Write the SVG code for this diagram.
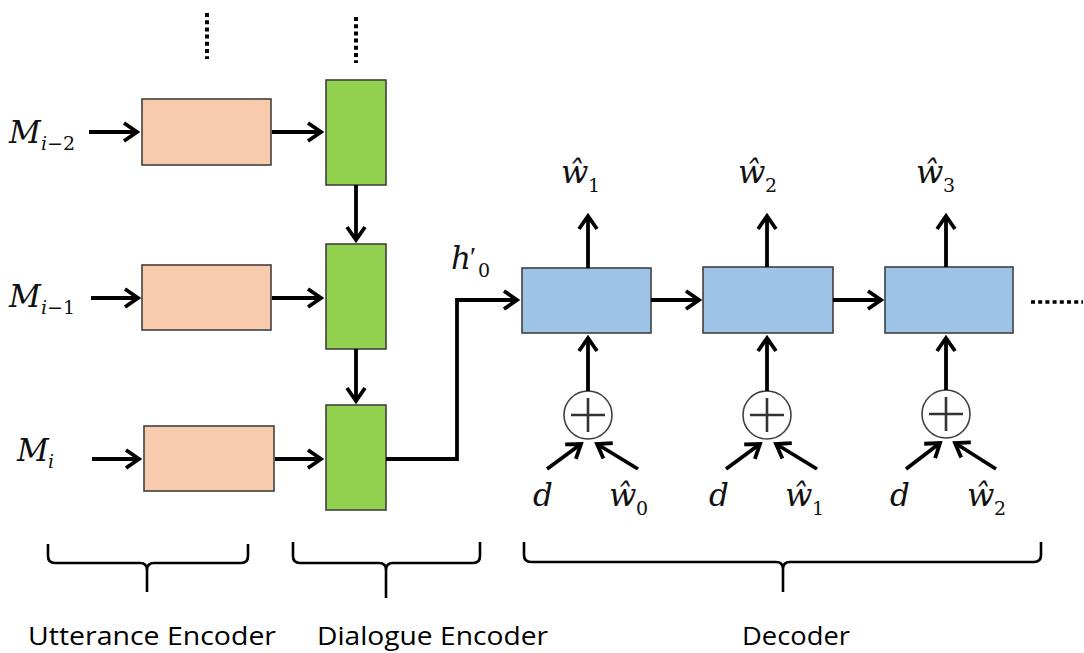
<svg xmlns="http://www.w3.org/2000/svg" width="1084" height="653" viewBox="0 0 1084 653">
  <style>
    .utt { fill: #F8CBAD; stroke: #404040; stroke-width: 1.6; }
    .dlg { fill: #92D050; stroke: #404040; stroke-width: 1.6; }
    .dec { fill: #9DC3E6; stroke: #404040; stroke-width: 1.6; }
    .sum { fill: #ffffff; stroke: #404040; stroke-width: 1.6; }
    .plus { stroke: #333333; stroke-width: 2.6; fill: none; }
    .link { fill: none; stroke: #000000; stroke-width: 3.8; marker-end: url(#arr); }
    .dots { fill: none; stroke: #000000; stroke-width: 4; stroke-dasharray: 4 3.2; }
    .brace { fill: none; stroke: #000000; stroke-width: 2.6; stroke-linejoin: round; }
    .mi { font-family: "DejaVu Serif", "Liberation Serif", serif; font-style: italic; font-size: 31px; fill: #111111; }
    .wh { font-family: "DejaVu Serif", "Liberation Serif", serif; font-style: italic; font-size: 32px; fill: #111111; }
    .sub { font-family: "DejaVu Serif", "Liberation Serif", serif; font-size: 19px; fill: #111111; }
    .subi { font-family: "DejaVu Serif", "Liberation Serif", serif; font-style: italic; font-size: 19px; fill: #111111; }
    .cap { font-family: "Open Sans", "Liberation Sans", sans-serif; font-size: 25px; fill: #000000; }
  </style>
  <defs>
    <marker id="arr" viewBox="-18 -12 22 24" refX="0" refY="0" markerWidth="22" markerHeight="24" markerUnits="userSpaceOnUse" orient="auto">
      <path d="M-13,-9 L0,0 L-13,9" fill="none" stroke="#000000" stroke-width="3.8" stroke-linejoin="miter"/>
    </marker>
  </defs>

  <!-- utterance encoders -->
  <g id="utt-1"><rect class="utt" x="142" y="99" width="129" height="66"/></g>
  <g id="utt-2"><rect class="utt" x="142" y="265" width="129" height="65"/></g>
  <g id="utt-3"><rect class="utt" x="144" y="426" width="130" height="65"/></g>

  <!-- dialogue encoder states -->
  <g id="dlg-1"><rect class="dlg" x="326" y="80" width="60" height="105"/></g>
  <g id="dlg-2"><rect class="dlg" x="326" y="244" width="60" height="105"/></g>
  <g id="dlg-3"><rect class="dlg" x="326" y="405" width="60" height="105"/></g>

  <!-- decoder cells -->
  <g id="dec-1"><rect class="dec" x="522" y="268" width="129" height="65"/></g>
  <g id="dec-2"><rect class="dec" x="703" y="267" width="130" height="66"/></g>
  <g id="dec-3"><rect class="dec" x="885" y="267" width="128" height="66"/></g>

  <!-- sum nodes -->
  <g id="sum-1">
    <circle class="sum" cx="588" cy="415" r="24"/>
    <path class="plus" d="M571,415 H605 M588,398 V432"/>
  </g>
  <g id="sum-2">
    <circle class="sum" cx="767" cy="415" r="24"/>
    <path class="plus" d="M750,415 H784 M767,398 V432"/>
  </g>
  <g id="sum-3">
    <circle class="sum" cx="946" cy="414" r="24"/>
    <path class="plus" d="M929,414 H963 M946,397 V431"/>
  </g>

  <!-- connectors -->
  <g id="connectors">
    <line class="link" x1="89" y1="132" x2="137" y2="132"/>
    <line class="link" x1="91" y1="298" x2="138" y2="298"/>
    <line class="link" x1="92" y1="459" x2="139" y2="459"/>
    <line class="link" x1="272" y1="132" x2="321" y2="132"/>
    <line class="link" x1="272" y1="298" x2="321" y2="298"/>
    <line class="link" x1="275" y1="459" x2="321" y2="459"/>
    <line class="link" x1="356" y1="185" x2="356" y2="240"/>
    <line class="link" x1="356" y1="349" x2="356" y2="401"/>
    <path class="link" d="M386,459 H457 V300 H517"/>
    <line class="link" x1="651" y1="300" x2="699" y2="300"/>
    <line class="link" x1="833" y1="300" x2="881" y2="300"/>
    <line class="link" x1="588" y1="268" x2="588" y2="216"/>
    <line class="link" x1="767" y1="267" x2="767" y2="216"/>
    <line class="link" x1="946" y1="267" x2="946" y2="216"/>
    <line class="link" x1="588" y1="391" x2="588" y2="338"/>
    <line class="link" x1="767" y1="391" x2="767" y2="338"/>
    <line class="link" x1="946" y1="390" x2="946" y2="338"/>
    <line class="link" x1="547" y1="469" x2="581" y2="444"/>
    <line class="link" x1="638" y1="469" x2="597" y2="444"/>
    <line class="link" x1="726" y1="469" x2="760" y2="444"/>
    <line class="link" x1="817" y1="469" x2="776" y2="444"/>
    <line class="link" x1="906" y1="469" x2="940" y2="443"/>
    <line class="link" x1="996" y1="469" x2="955" y2="443"/>
    <line class="dots" x1="207" y1="13" x2="207" y2="59"/>
    <line class="dots" x1="356" y1="17" x2="356" y2="63"/>
    <line class="dots" x1="1031" y1="302" x2="1083" y2="302" style="stroke-width:3.5"/>
  </g>

  <!-- variable labels -->
  <g id="labels">
    <text class="mi" x="9" y="143">M</text>
    <text class="subi" x="41" y="150">i</text><text class="sub" x="47" y="150">−2</text>
    <text class="mi" x="9" y="307">M</text>
    <text class="subi" x="41" y="314">i</text><text class="sub" x="47" y="314">−1</text>
    <text class="mi" x="17" y="461">M</text>
    <text class="subi" x="48" y="468">i</text>

    <text class="mi" x="451" y="269">h</text>
    <text x="470" y="266" style="font-family:'Liberation Serif',serif;font-size:28px;fill:#111111">′</text>
    <text class="sub" x="478" y="277">0</text>

    <text class="wh" x="561" y="183">ŵ</text><text class="sub" x="588" y="192">1</text>
    <text class="wh" x="738" y="183">ŵ</text><text class="sub" x="765" y="192">2</text>
    <text class="wh" x="916" y="183">ŵ</text><text class="sub" x="943" y="192">3</text>

    <text class="mi" x="533" y="506">d</text>
    <text class="wh" x="609" y="506">ŵ</text><text class="sub" x="636" y="515">0</text>
    <text class="mi" x="709" y="506">d</text>
    <text class="wh" x="785" y="506">ŵ</text><text class="sub" x="812" y="515">1</text>
    <text class="mi" x="890" y="506">d</text>
    <text class="wh" x="967" y="506">ŵ</text><text class="sub" x="994" y="515">2</text>
  </g>

  <!-- group braces -->
  <g id="braces">
    <path class="brace" d="M48,544 V556 Q48,563 55,563 H140 Q147,563 147,570 V592 M147,570 Q147,563 154,563 H241 Q248,563 248,556 V544"/>
    <path class="brace" d="M293,542 V556 Q293,563 300,563 H379 Q386,563 386,570 V598 M386,570 Q386,563 393,563 H473 Q480,563 480,556 V542"/>
    <path class="brace" d="M524,542 V555 Q524,562 531,562 H776 Q783,562 783,569 V592 M783,569 Q783,562 790,562 H1034 Q1041,562 1041,555 V542"/>
  </g>

  <g id="captions">
    <text class="cap" x="28" y="645" textLength="248" lengthAdjust="spacingAndGlyphs">Utterance Encoder</text>
    <text class="cap" x="317" y="645" textLength="231" lengthAdjust="spacingAndGlyphs">Dialogue Encoder</text>
    <text class="cap" x="742" y="645" textLength="108" lengthAdjust="spacingAndGlyphs">Decoder</text>
  </g>
</svg>
